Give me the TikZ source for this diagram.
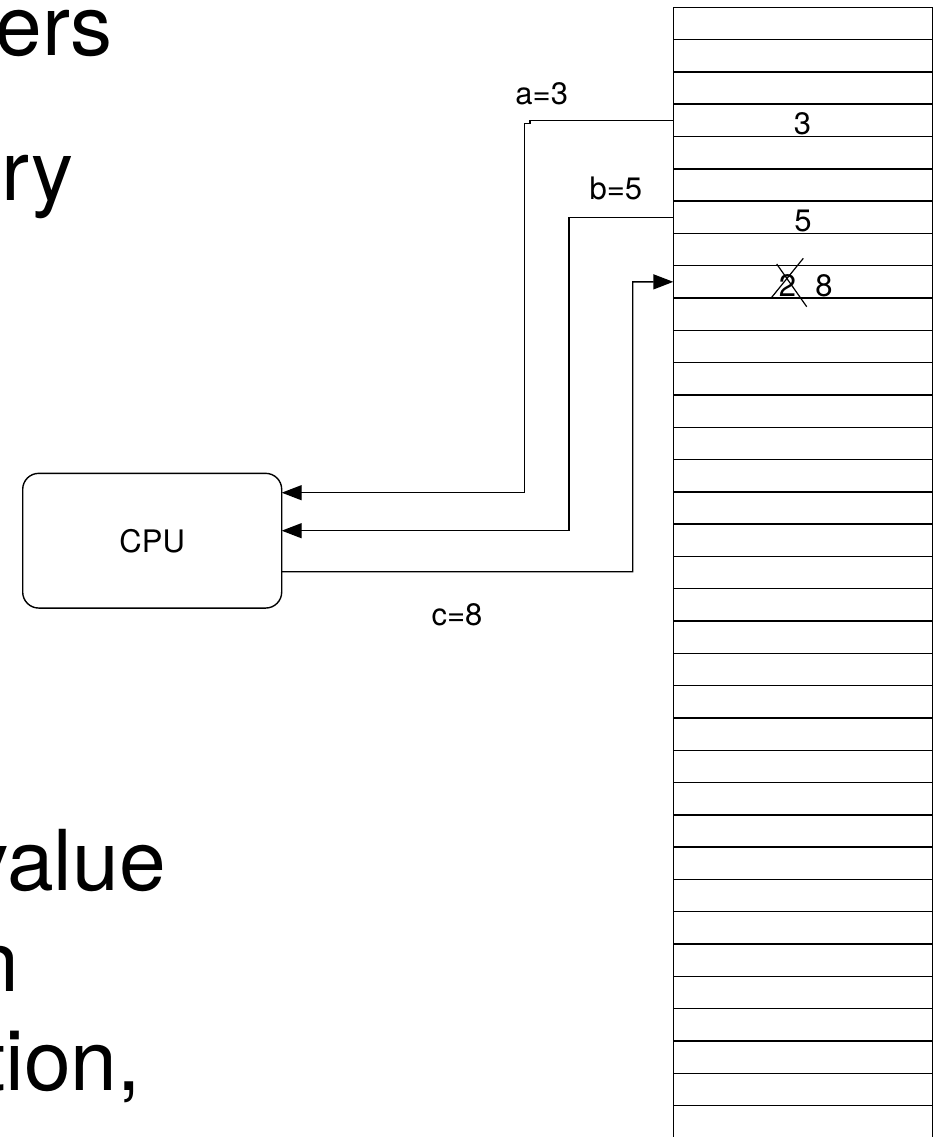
\documentclass[tikz,border=0pt]{standalone}
\usepackage{fontspec}
\setmainfont{TeX Gyre Heros}
\usetikzlibrary{arrows.meta,calc}
\tikzset{
  memrow/.style={draw, line width=1.4pt, minimum width=259.4pt, minimum height=32.3pt, inner sep=0pt, outer sep=0pt},
  cpubox/.style={draw, line width=1.4pt, rounded corners=16pt, minimum width=259pt, minimum height=134.7pt, inner sep=0pt, outer sep=0pt, font=\fontsize{31}{36}\selectfont},
  conn/.style={line width=1.4pt},
  tip/.style={-{Triangle[length=20pt,width=15pt]}},
  lbl/.style={inner sep=0pt, font=\fontsize{31}{36}\selectfont},
  bigger/.style={inner sep=0pt, anchor=base east, font=\fontsize{84}{96}\selectfont},
  cross/.style={line width=1.2pt}
}
\begin{document}
\begin{tikzpicture}[x=1pt,y=-1pt]
\useasboundingbox (0,0) rectangle (944,1137);
\clip (0,0) rectangle (944,1137);
% large cropped slide text
\node[bigger] (t1) at (113,56) {ers};
\node[bigger] (t2) at (74,200) {ry};
\node[bigger] (t3) at (166,890) {value};
\node[bigger] (t4) at (19,991) {n};
\node[bigger] (t5) at (141,1090) {tion,};
% memory column
\foreach \k in {0,...,33} {
  \node[memrow] (r\k) at (803, {7.3+32.3*\k+16.15}) {};
}
\node[memrow, minimum height=45pt] (r34) at (803, {7.3+32.3*34+22.5}) {};
% values
\node[lbl] (v3) at (802.5,124) {3};
\node[lbl] (v5) at (803,221) {5};
\node[lbl] (v2) at (787.5,285.5) {2};
\node[lbl] (v8) at (824,285.5) {8};
\draw[cross] (776.7,264) -- (806.7,306.7);
\draw[cross] (803.3,258.3) -- (771.7,297.3);
% CPU
\node[cpubox] (cpu) at (152.2,540.7) {CPU};
% connectors
\draw[conn,tip] (r3.west) -- (530,120.35) -- (530,123.3) -- (524.3,123.3) -- (524.3,492.7) -- ($(cpu.east)+(0,-48)$);
\draw[conn,tip] (r6.west) -- (569,217.25) -- (569,530.7) -- ($(cpu.east)+(0,-10)$);
\draw[conn,tip] ($(cpu.east)+(0,31)$) -- (632.7,571.7) -- (632.7,281.85) -- (r8.west);
% labels
\node[lbl] (la) at (541.7,93.3) {a=3};
\node[lbl] (lb) at (615.8,188.3) {b=5};
\node[lbl] (lc) at (457,615) {c=8};
\end{tikzpicture}
\end{document}
